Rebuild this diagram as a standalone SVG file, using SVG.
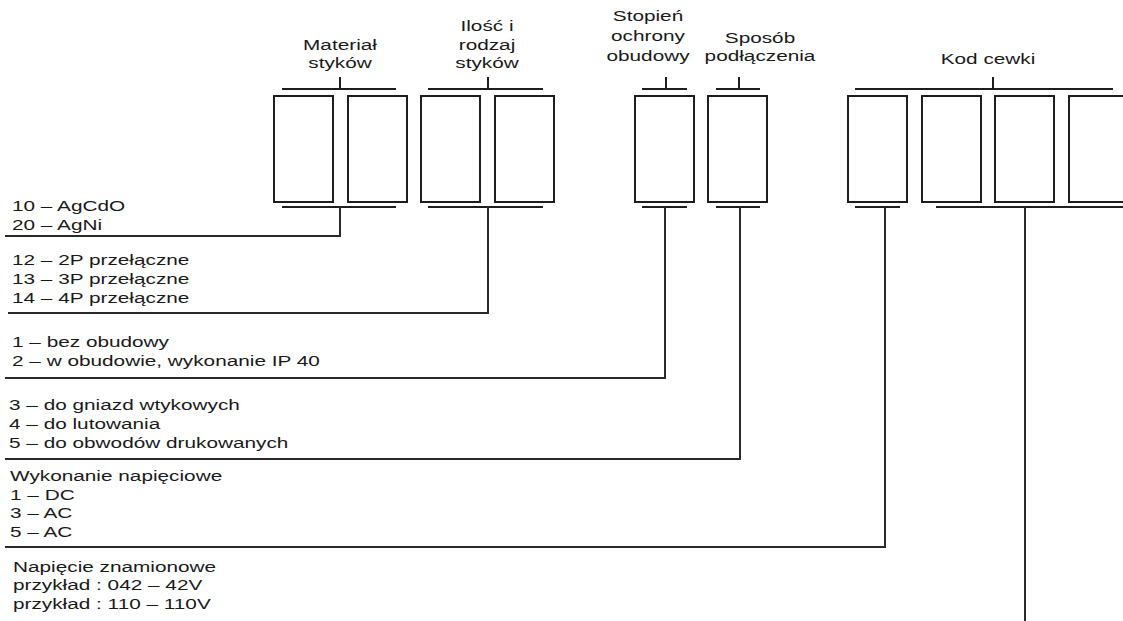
<svg xmlns="http://www.w3.org/2000/svg" width="1123" height="621" viewBox="0 0 1123 621">
<style>
.bg{fill:#fff}
.box{fill:#fff;stroke:#1e1e1e;stroke-width:2}
.br{fill:none;stroke:#1e1e1e;stroke-width:2}
.cn{fill:none;stroke:#2a2a2a;stroke-width:2}
.t{font-family:"Liberation Sans",Arial,sans-serif;font-size:15px;fill:#1a1a1a}
.c{text-anchor:middle}
</style>
<rect class="bg" x="0" y="0" width="1123" height="621"/>
<g id="heading-material">
<text class="t c" transform="translate(340,50) scale(1.385,1)">Materiał</text>
<text class="t c" transform="translate(340,68) scale(1.385,1)">styków</text>
<path class="br" d="M340 77V89M282 89H396"/>
</g>
<g id="heading-ilosc">
<text class="t c" transform="translate(487,31) scale(1.385,1)">Ilość i</text>
<text class="t c" transform="translate(487,50) scale(1.385,1)">rodzaj</text>
<text class="t c" transform="translate(487,68) scale(1.385,1)">styków</text>
<path class="br" d="M488 77V89M428 89H543"/>
</g>
<g id="heading-stopien">
<text class="t c" transform="translate(648,21) scale(1.385,1)">Stopień</text>
<text class="t c" transform="translate(648,41) scale(1.385,1)">ochrony</text>
<text class="t c" transform="translate(648,61) scale(1.385,1)">obudowy</text>
<path class="br" d="M666 77V89M642 89H687"/>
</g>
<g id="heading-sposob">
<text class="t c" transform="translate(760,43) scale(1.385,1)">Sposób</text>
<text class="t c" transform="translate(760,61) scale(1.385,1)">podłączenia</text>
<path class="br" d="M739 77V89M716 89H760"/>
</g>
<g id="heading-kod">
<text class="t c" transform="translate(988,64) scale(1.385,1)">Kod cewki</text>
<path class="br" d="M993 77V89M855 89H1113"/>
</g>
<g id="boxes">
<rect class="box" x="274" y="96" width="59" height="106"/>
<rect class="box" x="348" y="96" width="59" height="106"/>
<rect class="box" x="421" y="96" width="59" height="106"/>
<rect class="box" x="495" y="96" width="59" height="106"/>
<rect class="box" x="635" y="96" width="59" height="106"/>
<rect class="box" x="708" y="96" width="59" height="106"/>
<rect class="box" x="848" y="96" width="59" height="106"/>
<rect class="box" x="922" y="96" width="59" height="106"/>
<rect class="box" x="995" y="96" width="59" height="106"/>
<rect class="box" x="1069" y="96" width="59" height="106"/>
</g>
<g id="bottom-brackets">
<path class="br" d="M282 207H396M428 207H543M642 207H687M716 207H760M855 207H900M936 207H1123"/>
</g>
<g id="connectors">
<path class="cn" d="M340 207V236H5"/>
<path class="cn" d="M488 207V313H8"/>
<path class="cn" d="M665 207V378H5"/>
<path class="cn" d="M740 207V459H5"/>
<path class="cn" d="M885 207V547H5"/>
<path class="cn" d="M1025 207V621"/>
</g>
<g id="legend-material">
<text class="t" transform="translate(12,211) scale(1.385,1)">10 – AgCdO</text>
<text class="t" transform="translate(12,230) scale(1.385,1)">20 – AgNi</text>
</g>
<g id="legend-ilosc">
<text class="t" transform="translate(12,265) scale(1.385,1)">12 – 2P przełączne</text>
<text class="t" transform="translate(12,284) scale(1.385,1)">13 – 3P przełączne</text>
<text class="t" transform="translate(12,303) scale(1.385,1)">14 – 4P przełączne</text>
</g>
<g id="legend-stopien">
<text class="t" transform="translate(12,347) scale(1.385,1)">1 – bez obudowy</text>
<text class="t" transform="translate(12,366) scale(1.385,1)">2 – w obudowie, wykonanie IP 40</text>
</g>
<g id="legend-sposob">
<text class="t" transform="translate(9,410) scale(1.385,1)">3 – do gniazd wtykowych</text>
<text class="t" transform="translate(9,429) scale(1.385,1)">4 – do lutowania</text>
<text class="t" transform="translate(9,448) scale(1.385,1)">5 – do obwodów drukowanych</text>
</g>
<g id="legend-wykonanie">
<text class="t" transform="translate(10,481) scale(1.385,1)">Wykonanie napięciowe</text>
<text class="t" transform="translate(10,500) scale(1.385,1)">1 – DC</text>
<text class="t" transform="translate(10,518) scale(1.385,1)">3 – AC</text>
<text class="t" transform="translate(10,537) scale(1.385,1)">5 – AC</text>
</g>
<g id="legend-napiecie">
<text class="t" transform="translate(13,572) scale(1.385,1)">Napięcie znamionowe</text>
<text class="t" transform="translate(13,590) scale(1.385,1)">przykład : 042 – 42V</text>
<text class="t" transform="translate(13,609) scale(1.385,1)">przykład : 110 – 110V</text>
</g>
</svg>
